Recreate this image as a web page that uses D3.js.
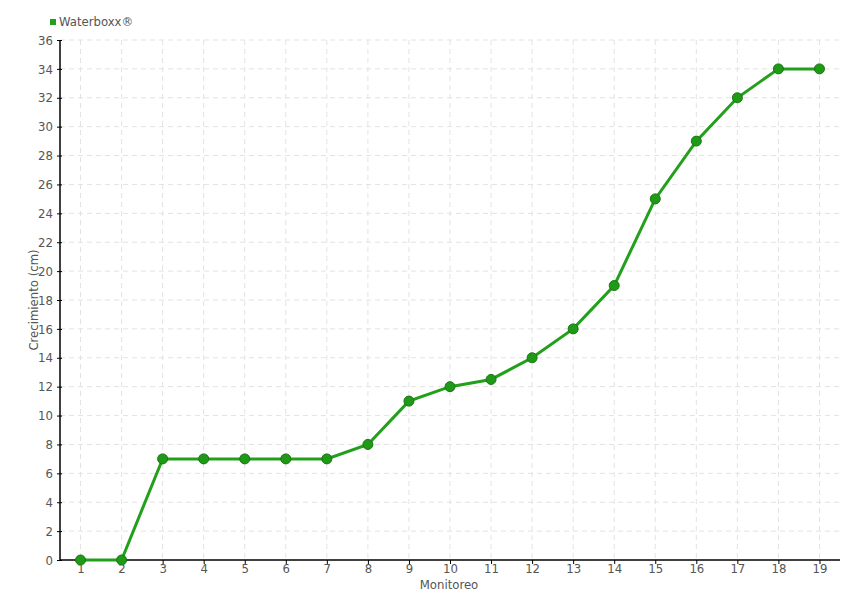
<!DOCTYPE html>
<html>
<head>
<meta charset="utf-8">
<script src="https://cdn.jsdelivr.net/npm/d3@7"></script>
<style>
  body { margin: 0; background: #fff; }
  text { font-family: "DejaVu Sans Condensed", "DejaVu Sans", sans-serif; font-stretch: condensed; fill: #555; }
</style>
</head>
<body>
<svg id="chart" width="860" height="600"></svg>
<script>
// data
const monitoreos = ['1','2','3','4','5','6','7','8','9','10','11','12','13','14','15','16','17','18','19']
const crecimiento = [0, 0, 7, 7, 7, 7, 7, 8, 11, 12, 12.5, 14, 16, 19, 25, 29, 32, 34, 34]
const yTicks = d3.range(0, 37, 2)
const seriesName = 'Waterboxx®'

const margin = { top: 40, right: 20, bottom: 40, left: 60 }
const width = 860, height = 600
const innerW = width - margin.left - margin.right
const innerH = height - margin.top - margin.bottom

const svg = d3.select('#chart')
const g = svg.append('g').attr('transform', `translate(${margin.left},${margin.top})`)

const x = d3.scalePoint().domain(monitoreos).range([0, innerW]).padding(0.5)
const y = d3.scaleLinear().domain([0, 36]).range([innerH, 0])

// grid
g.append('g').selectAll('line.h')
    .data(yTicks.slice(1))
    .enter().append('line')
    .attr('x1', 0).attr('x2', innerW)
    .attr('y1', d => y(d)).attr('y2', d => y(d))
    .style('stroke', '#e3e3e3').style('stroke-dasharray', '5,4')

g.append('g').selectAll('line.v')
    .data(monitoreos)
    .enter().append('line')
    .attr('x1', d => x(d)).attr('x2', d => x(d))
    .attr('y1', 0).attr('y2', innerH)
    .style('stroke', '#e3e3e3').style('stroke-dasharray', '5,4')

// axes
const yAxis = g.append('g')
    .call(d3.axisLeft(y).tickValues(yTicks).tickSize(3).tickPadding(4))
yAxis.selectAll('.tick line').attr('x2', 2).attr('x1', -3).style('stroke', '#000')
yAxis.select('.domain').style('stroke', '#000').style('stroke-width', 1.5).attr('d', `M0,0V${innerH}`)
yAxis.selectAll('text').style('font-size', '13px').style('fill', '#555')

const xAxis = g.append('g').attr('transform', `translate(0,${innerH})`)
    .call(d3.axisBottom(x).tickSize(4).tickPadding(0))
xAxis.selectAll('.tick line').style('stroke', '#000')
xAxis.select('.domain').style('stroke', '#000').style('stroke-width', 1.5).attr('d', `M0,0H${innerW}`)
xAxis.selectAll('text').style('font-size', '13px').style('fill', '#555')

// axis titles
svg.append('text')
    .attr('transform', `translate(38,${margin.top + innerH / 2}) rotate(-90)`)
    .attr('text-anchor', 'middle')
    .style('font-size', '13px')
    .text('Crecimiento (cm)')

svg.append('text')
    .attr('x', margin.left + innerW / 2 - 1)
    .attr('y', 589)
    .attr('text-anchor', 'middle')
    .style('font-size', '13px')
    .text('Monitoreo')

// line
const line = d3.line()
    .x((d, i) => x(monitoreos[i]))
    .y(d => y(d))

g.append('path')
    .datum(crecimiento)
    .attr('d', line)
    .style('fill', 'none')
    .style('stroke', '#22a01c')
    .style('stroke-width', 3)

g.selectAll('circle.pt')
    .data(crecimiento)
    .enter().append('circle')
    .attr('class', 'pt')
    .attr('cx', (d, i) => x(monitoreos[i]))
    .attr('cy', d => y(d))
    .attr('r', 5)
    .style('fill', '#1f9a17')
    .style('stroke', '#1a7514')
    .style('stroke-width', 1)

// legend
svg.append('rect')
    .attr('x', 50).attr('y', 19)
    .attr('width', 6).attr('height', 6)
    .style('fill', '#22a01c')
svg.append('text')
    .attr('x', 59).attr('y', 26)
    .style('font-size', '13px')
    .text(seriesName)
</script>
</body>
</html>
